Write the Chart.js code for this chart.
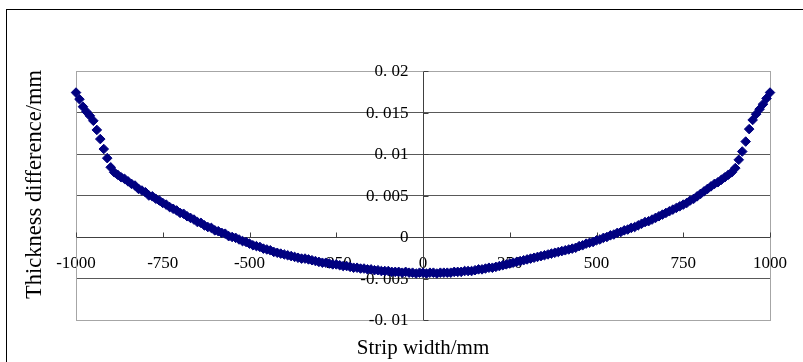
<!DOCTYPE html>
<html>
<head>
<meta charset="utf-8">
<script src="https://cdn.jsdelivr.net/npm/chart.js@4.4.0/dist/chart.umd.min.js"></script>
<style>
  html, body { margin: 0; padding: 0; background: #fff; overflow: hidden; }
  #frame { position: absolute; left: 6px; top: 9px; width: 900px; height: 500px; border: 1px solid #000; }
  canvas { position: absolute; left: 0; top: 0; }
</style>
</head>
<body>
<div id="frame"></div>
<canvas id="chart" width="803" height="362"></canvas>
<script>
// strip width positions (mm)
const widthMm = [
  -1000, -990, -980, -970, -960, -950, -940, -930, -920, -910,
  -900, -890, -880, -870, -860, -850, -840, -830, -820, -810,
  -800, -790, -780, -770, -760, -750, -740, -730, -720, -710,
  -700, -690, -680, -670, -660, -650, -640, -630, -620, -610,
  -600, -590, -580, -570, -560, -550, -540, -530, -520, -510,
  -500, -490, -480, -470, -460, -450, -440, -430, -420, -410,
  -400, -390, -380, -370, -360, -350, -340, -330, -320, -310,
  -300, -290, -280, -270, -260, -250, -240, -230, -220, -210,
  -200, -190, -180, -170, -160, -150, -140, -130, -120, -110,
  -100, -90, -80, -70, -60, -50, -40, -30, -20, -10,
  0, 10, 20, 30, 40, 50, 60, 70, 80, 90,
  100, 110, 120, 130, 140, 150, 160, 170, 180, 190,
  200, 210, 220, 230, 240, 250, 260, 270, 280, 290,
  300, 310, 320, 330, 340, 350, 360, 370, 380, 390,
  400, 410, 420, 430, 440, 450, 460, 470, 480, 490,
  500, 510, 520, 530, 540, 550, 560, 570, 580, 590,
  600, 610, 620, 630, 640, 650, 660, 670, 680, 690,
  700, 710, 720, 730, 740, 750, 760, 770, 780, 790,
  800, 810, 820, 830, 840, 850, 860, 870, 880, 890,
  900, 910, 920, 930, 940, 950, 960, 970, 980, 990,
  1000
];

// thickness difference (mm)
const thickDiff = [
  0.0174, 0.0166, 0.0157, 0.0151, 0.0146, 0.0140, 0.0129, 0.0118, 0.0106, 0.0095,
  0.0084, 0.0078, 0.0075, 0.0072, 0.0070, 0.0067, 0.0064, 0.0062, 0.0058, 0.0056,
  0.0054, 0.0050, 0.0049, 0.0046, 0.0044, 0.0041, 0.0039, 0.0036, 0.0034, 0.0032,
  0.0029, 0.0028, 0.0025, 0.0023, 0.0021, 0.0018, 0.0017, 0.0014, 0.0012, 0.0011,
  0.0008, 0.0007, 0.0005, 0.0004, 0.0001, 0.0000, -0.0001, -0.0003, -0.0005, -0.0006,
  -0.0008, -0.0010, -0.0011, -0.0012, -0.0014, -0.0015, -0.0016, -0.0018, -0.0019, -0.0020,
  -0.0021, -0.0022, -0.0023, -0.0024, -0.0025, -0.0026, -0.0026, -0.0027, -0.0028, -0.0029,
  -0.0030, -0.0031, -0.0031, -0.0032, -0.0033, -0.0033, -0.0034, -0.0035, -0.0035, -0.0036,
  -0.0037, -0.0037, -0.0038, -0.0038, -0.0039, -0.0039, -0.0040, -0.0040, -0.0041, -0.0041,
  -0.0041, -0.0042, -0.0042, -0.0042, -0.0043, -0.0042, -0.0043, -0.0043, -0.0044, -0.0043,
  -0.0043, -0.0044, -0.0043, -0.0043, -0.0044, -0.0043, -0.0043, -0.0043, -0.0043, -0.0042,
  -0.0042, -0.0042, -0.0041, -0.0041, -0.0041, -0.0040, -0.0039, -0.0039, -0.0038, -0.0037,
  -0.0037, -0.0036, -0.0035, -0.0034, -0.0033, -0.0032, -0.0031, -0.0030, -0.0029, -0.0028,
  -0.0027, -0.0026, -0.0025, -0.0024, -0.0023, -0.0022, -0.0021, -0.0020, -0.0019, -0.0018,
  -0.0017, -0.0016, -0.0015, -0.0014, -0.0013, -0.0011, -0.0010, -0.0008, -0.0007, -0.0006,
  -0.0004, -0.0003, -0.0001, 0.0000, 0.0002, 0.0003, 0.0005, 0.0006, 0.0008, 0.0009,
  0.0011, 0.0012, 0.0014, 0.0016, 0.0018, 0.0019, 0.0021, 0.0023, 0.0025, 0.0027,
  0.0029, 0.0031, 0.0033, 0.0035, 0.0037, 0.0039, 0.0041, 0.0044, 0.0046, 0.0049,
  0.0052, 0.0055, 0.0058, 0.0061, 0.0064, 0.0066, 0.0069, 0.0072, 0.0075, 0.0078,
  0.0083, 0.0093, 0.0103, 0.0115, 0.0130, 0.0141, 0.0148, 0.0154, 0.0160, 0.0167,
  0.0174
];

const xTickLabels = ['-1000', '-750', '-500', '-250', '0', '250', '500', '750', '1000'];
const yTickLabels = ['-0. 01', '-0. 005', '0', '0. 005', '0. 01', '0. 015', '0. 02'];

const xTitle = 'Strip width/mm';
const yTitle = 'Thickness difference/mm';

const points = widthMm.map((x, i) => ({ x: x, y: thickDiff[i] }));

const serif = "'Liberation Serif', 'DejaVu Serif', serif";
const tickFont = { family: serif, size: 17 };

// frame, y labels, small tick marks on the two centre axes, axis titles
const extras = {
  id: 'extras',
  beforeDatasetsDraw(chart) {
    const ctx = chart.ctx;
    const a = chart.chartArea;
    const xs = chart.scales.x;
    const ys = chart.scales.y;
    ctx.save();
    ctx.strokeStyle = '#a6a6a6';
    ctx.lineWidth = 1;
    ctx.strokeRect(a.left + 0.5, a.top + 0.5, a.right - a.left, a.bottom - a.top);

    const y0 = Math.round(ys.getPixelForValue(0)) + 0.5;
    const x0 = Math.round(xs.getPixelForValue(0)) + 0.5;
    ctx.strokeStyle = '#404040';
    ctx.beginPath();
    xs.ticks.forEach(t => {
      const px = Math.round(xs.getPixelForValue(t.value)) + 0.5;
      ctx.moveTo(px, y0 - 5);
      ctx.lineTo(px, y0);
    });
    ys.ticks.forEach(t => {
      const py = Math.round(ys.getPixelForValue(t.value)) + 0.5;
      ctx.moveTo(x0, py);
      ctx.lineTo(x0 + 5, py);
    });
    ctx.stroke();

    ctx.fillStyle = '#000';
    ctx.font = '17px ' + serif;
    ctx.textAlign = 'right';
    ctx.textBaseline = 'middle';
    ys.ticks.forEach((t, i) => {
      ctx.fillText(yTickLabels[i], x0 - 15, ys.getPixelForValue(t.value) + 1);
    });
    ctx.restore();
  },
  afterDraw(chart) {
    const ctx = chart.ctx;
    const a = chart.chartArea;
    ctx.save();
    ctx.fillStyle = '#000';
    ctx.font = '21px ' + serif;
    ctx.textAlign = 'center';
    ctx.textBaseline = 'middle';
    ctx.fillText(xTitle, (a.left + a.right) / 2, a.bottom + 28);
    ctx.font = '22.5px ' + serif;
    ctx.translate(a.left - 41, (a.top + a.bottom) / 2 - 11);
    ctx.rotate(-Math.PI / 2);
    ctx.fillText(yTitle, 0, 0);
    ctx.restore();
  }
};

new Chart(document.getElementById('chart'), {
  type: 'scatter',
  data: {
    datasets: [{
      data: points,
      pointStyle: 'rectRot',
      pointRadius: 4.8,
      pointBackgroundColor: '#000080',
      pointBorderColor: '#000080',
      pointBorderWidth: 1,
      showLine: false,
      clip: false
    }]
  },
  options: {
    responsive: false,
    animation: false,
    layout: { padding: { left: 76, right: 32, top: 71, bottom: 42 } },
    plugins: {
      legend: { display: false },
      tooltip: { enabled: false }
    },
    scales: {
      x: {
        type: 'linear',
        position: { y: 0 },
        min: -1000,
        max: 1000,
        grid: { display: false, drawTicks: false },
        border: { display: true, color: '#404040', width: 1 },
        ticks: {
          stepSize: 250,
          autoSkip: false,
          maxRotation: 0,
          padding: 16,
          color: '#000',
          font: tickFont,
          callback: (v, i) => xTickLabels[i]
        }
      },
      y: {
        type: 'linear',
        position: { x: 0 },
        min: -0.01,
        max: 0.02,
        grid: {
          drawTicks: false,
          color: c => (c.index === 0 || c.index === yTickLabels.length - 1) ? '#a6a6a6' : '#595959'
        },
        border: { display: true, color: '#404040', width: 1 },
        ticks: {
          stepSize: 0.005,
          display: false
        }
      }
    }
  },
  plugins: [extras]
});
</script>
</body>
</html>
